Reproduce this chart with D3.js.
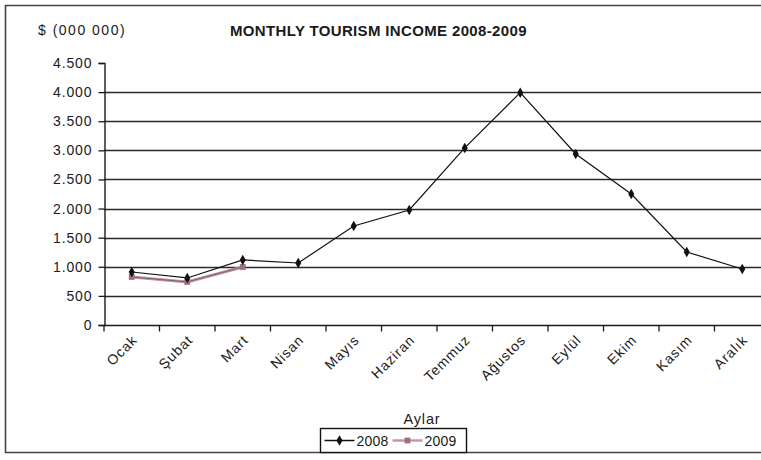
<!DOCTYPE html>
<html>
<head>
<meta charset="utf-8">
<script src="https://cdn.jsdelivr.net/npm/d3@7"></script>
<style>
  html, body { margin: 0; padding: 0; background: #fff; }
  svg { display: block; font-family: "Liberation Sans", Arial, sans-serif; }
</style>
</head>
<body>
<svg id="chart" width="761" height="460"></svg>
<script>
// Months (Turkish) along the category axis
const months = ["Ocak", "Şubat", "Mart", "Nisan", "Mayıs", "Haziran",
                "Temmuz", "Ağustos", "Eylül", "Ekim", "Kasım", "Aralık"];
// Monthly tourism income, $ millions
const income2008 = [910, 808, 1117, 1065, 1700, 1976, 3041, 3990, 2938, 2250, 1254, 962];
const income2009 = [825, 740, 997];
const yTicks = [0, 500, 1000, 1500, 2000, 2500, 3000, 3500, 4000, 4500];
const yTickLabels = ["0", "500", "1.000", "1.500", "2.000", "2.500", "3.000", "3.500", "4.000", "4.500"];
const seriesNames = ["2008", "2009"];

const svg = d3.select("#chart");
const colour2008 = "#111";
const colour2009 = "#c493a6";
const ink = "#1a1a1a";

// outer frame (open on the right)
svg.append("path")
  .attr("d", "M761,5.5 H5.5 V452.5 H761")
  .attr("fill", "none").attr("stroke", "#444").attr("stroke-width", 1.6);

const x = d3.scaleBand().domain(months).range([104, 770]);
const y = d3.scaleLinear().domain([0, 4500]).range([325, 63]);
const cx = m => x(m) + x.bandwidth() / 2;

// horizontal gridlines
svg.append("g").selectAll("line")
  .data(yTicks.filter(v => v > 0 && v < 4500))
  .join("line")
  .attr("x1", 104).attr("x2", 761)
  .attr("y1", d => Math.round(y(d)) + 0.5).attr("y2", d => Math.round(y(d)) + 0.5)
  .attr("stroke", "#2a2a2a").attr("stroke-width", 1.5);

// y axis
const yAxis = svg.append("g")
  .attr("transform", "translate(104.5,0)")
  .call(d3.axisLeft(y).tickValues(yTicks).tickFormat((d, i) => yTickLabels[i]).tickSize(6).tickPadding(6));
yAxis.select(".domain").attr("stroke", ink).attr("stroke-width", 1.4);
yAxis.selectAll(".tick line").attr("stroke", ink).attr("stroke-width", 1.3);
yAxis.selectAll("text").attr("font-size", 14).attr("fill", ink).attr("letter-spacing", "0.9px");

// x axis with ticks between categories
const xAxisG = svg.append("g").attr("transform", "translate(0,325.5)");
xAxisG.append("line").attr("x1", 104).attr("x2", 761).attr("stroke", ink).attr("stroke-width", 1.6);
xAxisG.selectAll("line.tk")
  .data(months.concat(["end"]))
  .join("line").attr("class", "tk")
  .attr("x1", (d, i) => 104 + i * x.step()).attr("x2", (d, i) => 104 + i * x.step())
  .attr("y1", 0).attr("y2", 6)
  .attr("stroke", ink).attr("stroke-width", 1.3);
xAxisG.selectAll("text")
  .data(months)
  .join("text")
  .attr("transform", d => `translate(${cx(d) - 1},8) rotate(-45)`)
  .attr("text-anchor", "end")
  .attr("dy", "0.75em")
  .attr("font-size", 14)
  .attr("letter-spacing", "0.9px")
  .attr("fill", ink)
  .text(d => d);

// series lines
const line = d3.line().x((d, i) => cx(months[i])).y(d => y(d));
svg.append("path").datum(income2009)
  .attr("d", line).attr("fill", "none")
  .attr("stroke", colour2009).attr("stroke-width", 3);
svg.append("path").datum(income2009)
  .attr("d", line).attr("fill", "none")
  .attr("stroke", "#6d6068").attr("stroke-width", 0.9);
svg.append("path").datum(income2008)
  .attr("d", line).attr("fill", "none")
  .attr("stroke", colour2008).attr("stroke-width", 1.2);

// markers
const diamond = d3.symbol().type(d3.symbolDiamond).size(32);
const square = d3.symbol().type(d3.symbolSquare).size(34);
svg.append("g").selectAll("path")
  .data(income2009).join("path")
  .attr("d", square)
  .attr("transform", (d, i) => `translate(${cx(months[i])},${y(d)})`)
  .attr("fill", "#9c6f82");
svg.append("g").selectAll("path")
  .data(income2008).join("path")
  .attr("d", diamond)
  .attr("transform", (d, i) => `translate(${cx(months[i])},${y(d)})`)
  .attr("fill", colour2008);

// titles
svg.append("text").attr("x", 38).attr("y", 35)
  .attr("font-size", 14).attr("letter-spacing", "1.5px").attr("fill", ink)
  .text("$ (000 000)");
svg.append("text").attr("x", 230).attr("y", 36)
  .attr("font-size", 15).attr("font-weight", "bold").attr("letter-spacing", "0.35px").attr("fill", ink)
  .text("MONTHLY TOURISM INCOME 2008-2009");
svg.append("text").attr("x", 422).attr("y", 424).attr("text-anchor", "middle")
  .attr("font-size", 14.5).attr("letter-spacing", "0.8px").attr("fill", ink)
  .text("Aylar");

// legend
const lg = svg.append("g").attr("transform", "translate(320.5,428.5)");
lg.append("rect").attr("width", 146).attr("height", 24)
  .attr("fill", "#fff").attr("stroke", "#111").attr("stroke-width", 1.4);
const legendItems = [
  { name: seriesNames[0], x0: 4, colour: colour2008, sym: diamond, mark: colour2008 },
  { name: seriesNames[1], x0: 72, colour: colour2009, sym: square, mark: "#9c6f82" }
];
legendItems.forEach(it => {
  lg.append("line").attr("x1", it.x0).attr("x2", it.x0 + 30).attr("y1", 12).attr("y2", 12)
    .attr("stroke", it.colour).attr("stroke-width", it.name === "2008" ? 1.5 : 2.4);
  lg.append("path").attr("d", it.sym).attr("transform", `translate(${it.x0 + 15},12)`).attr("fill", it.mark);
  lg.append("text").attr("x", it.x0 + 32).attr("y", 17.5)
    .attr("font-size", 14).attr("letter-spacing", "0.2px").attr("fill", ink)
    .text(it.name);
});
</script>
</body>
</html>
